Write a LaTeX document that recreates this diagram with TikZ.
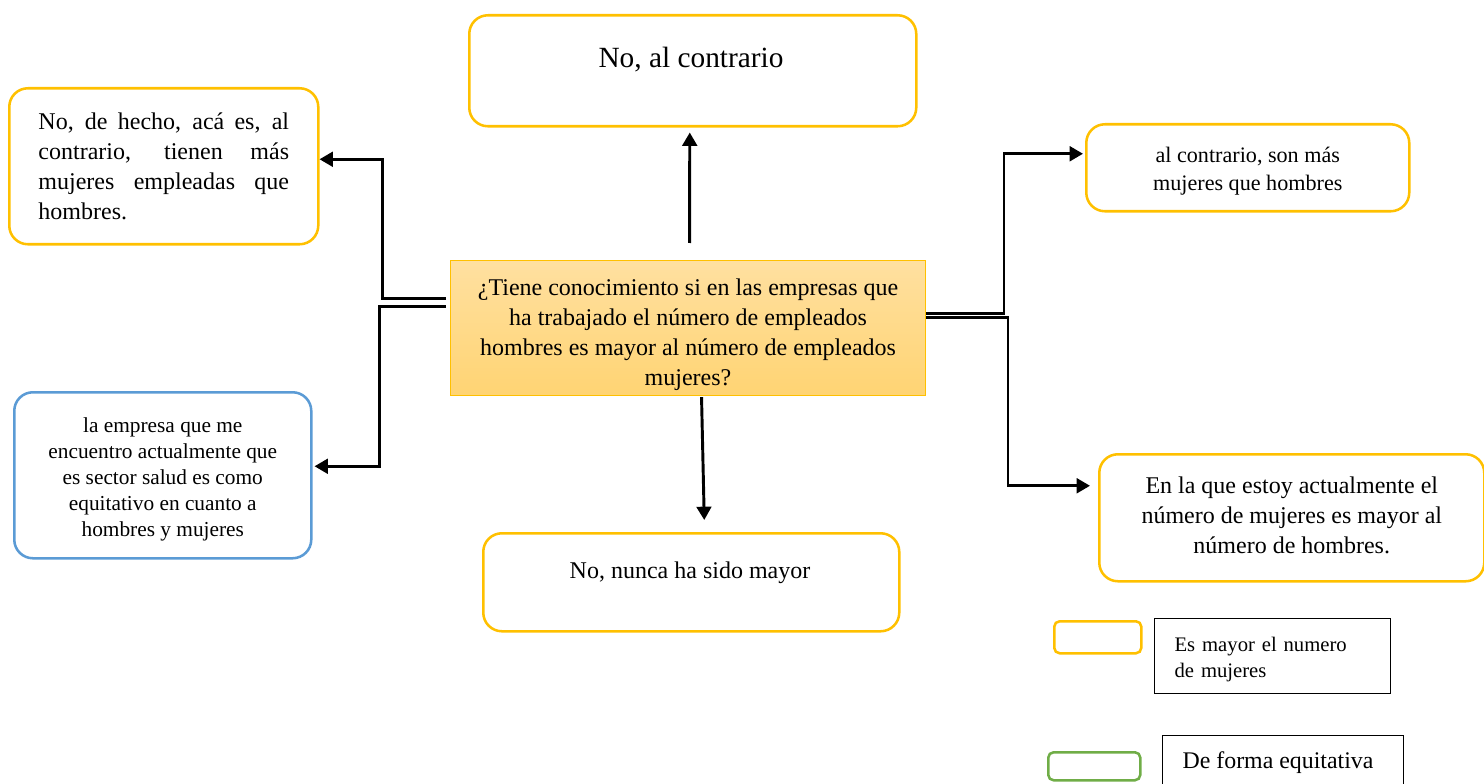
\documentclass[tikz,border=0pt]{standalone}
\usepackage{fontspec}
\setmainfont{Liberation Serif}
\usetikzlibrary{arrows.meta,calc}
\definecolor{ybord}{RGB}{255,192,0}
\definecolor{bbord}{RGB}{91,155,213}
\definecolor{gbord}{RGB}{112,173,71}
\definecolor{qtop}{RGB}{255,224,160}
\definecolor{qbot}{RGB}{255,212,115}
\newcommand\clines[2]{\raisebox{0pt}[\dimexpr\height+#1\relax][\depth]{\begin{tabular}{@{}c@{}}#2\end{tabular}}}
\newcommand\llines[2]{\raisebox{0pt}[\dimexpr\height+#1\relax][\depth]{\begin{tabular}{@{}l@{}}#2\end{tabular}}}
\begin{document}
\begin{tikzpicture}[x=0.75pt,y=-0.75pt,
  box/.style={draw=ybord, line width=1.9pt, rounded corners=14pt, anchor=north west, inner sep=0pt},
  conn/.style={line width=2.2pt, -{Triangle[length=10pt,width=11pt]}},
  plain/.style={draw=none, inner sep=0pt}]
\useasboundingbox (0,0) rectangle (1484,784);

% boxes
\node[box, minimum width=335.25pt, minimum height=83.25pt] (top) at (468,14) {};
\node[plain, font=\fontsize{22}{26}\selectfont] (toptext) at (691,60) {No, al contrario};

\node[box, minimum width=231.75pt, minimum height=117pt, text width=188pt, align=justify,
      font=\fontsize{18}{22.5}\selectfont] (lt) at (8,87)
  {No, de hecho, acá es, al\linebreak contrario, tienen más\linebreak mujeres empleadas que\linebreak hombres.};

\node[anchor=north west, draw=ybord, line width=0.8pt, top color=qtop, bottom color=qbot,
      minimum width=356.25pt, minimum height=101.25pt, inner sep=0pt,
      font=\fontsize{18}{22.5}\selectfont] (q) at (450,260)
  {\clines{9pt}{¿Tiene conocimiento si en las empresas que\\ ha trabajado el número de empleados\\ hombres es mayor al número de empleados\\ mujeres?}};

\node[box, minimum width=242.25pt, minimum height=65.25pt,
      font=\fontsize{16.6}{21}\selectfont] (rt) at (1085,123)
  {\clines{4.5pt}{al contrario, son más\\ mujeres que hombres}};

\node[box, minimum width=288.75pt, minimum height=95.25pt,
      font=\fontsize{18}{22.5}\selectfont] (rb) at (1098,453)
  {\clines{0pt}{En la que estoy actualmente el\\ número de mujeres es mayor al\\ número de hombres.}};

\node[box, minimum width=312pt, minimum height=73.5pt] (bt) at (482,532) {};
\node[plain, font=\fontsize{18}{22}\selectfont] (bttext) at (690,573) {No, nunca ha sido mayor};

\node[box, draw=bbord, minimum width=222.75pt, minimum height=124.5pt,
      font=\fontsize{16}{19.5}\selectfont] (lb) at (13,391)
  {\clines{6pt}{la empresa que me\\ encuentro actualmente que\\ es sector salud es como\\ equitativo en cuanto a\\ hombres y mujeres}};

% legend
\node[box, rounded corners=4pt, minimum width=65.25pt, minimum height=24pt] (ly) at (1053,620) {};
\node[anchor=north west, draw, line width=0.9pt, minimum width=177pt, minimum height=56.25pt,
      text width=147pt, inner xsep=15pt, inner ysep=0pt,
      font=\fontsize{15.5}{20}\selectfont] (lyt) at (1154,618)
  {\llines{4.5pt}{Es mayor el numero\\ de mujeres}};
\node[box, draw=gbord, rounded corners=4pt, minimum width=69pt, minimum height=21pt] (lg) at (1047,751) {};
\node[anchor=north west, draw, line width=0.9pt, minimum width=180.75pt, minimum height=45pt] (lgt) at (1162,735) {};
\node[plain, font=\fontsize{17.9}{20}\selectfont] (lgtext) at (1278,763) {De forma equitativa};

% connectors
\draw[conn] ($(q.north)+(1.5,-17)$) -- ($(top.south)+(-3,5)$);
\draw[conn] ($(q.south)+(13.5,1)$) -- ($(bt.north)+(13,-12)$);
\draw[conn] ($(q.west)+(-4,-30)$) -| ($(lt.east)+(63,-7)$) -- ($(lt.east)+(0,-7)$);
\draw[conn] ($(q.west)+(-4,-22)$) -| ($(lb.east)+(67,-9)$) -- ($(lb.east)+(2,-9)$);
\draw[conn] ($(q.east)+(0,-15)$) -| ($(rt.west)+(-81,-14)$) -- ($(rt.west)+(-2,-14)$);
\draw[conn] ($(q.east)+(0,-11)$) -| ($(rb.west)+(-90,-32)$) -- ($(rb.west)+(-8,-32)$);
\end{tikzpicture}
\end{document}
